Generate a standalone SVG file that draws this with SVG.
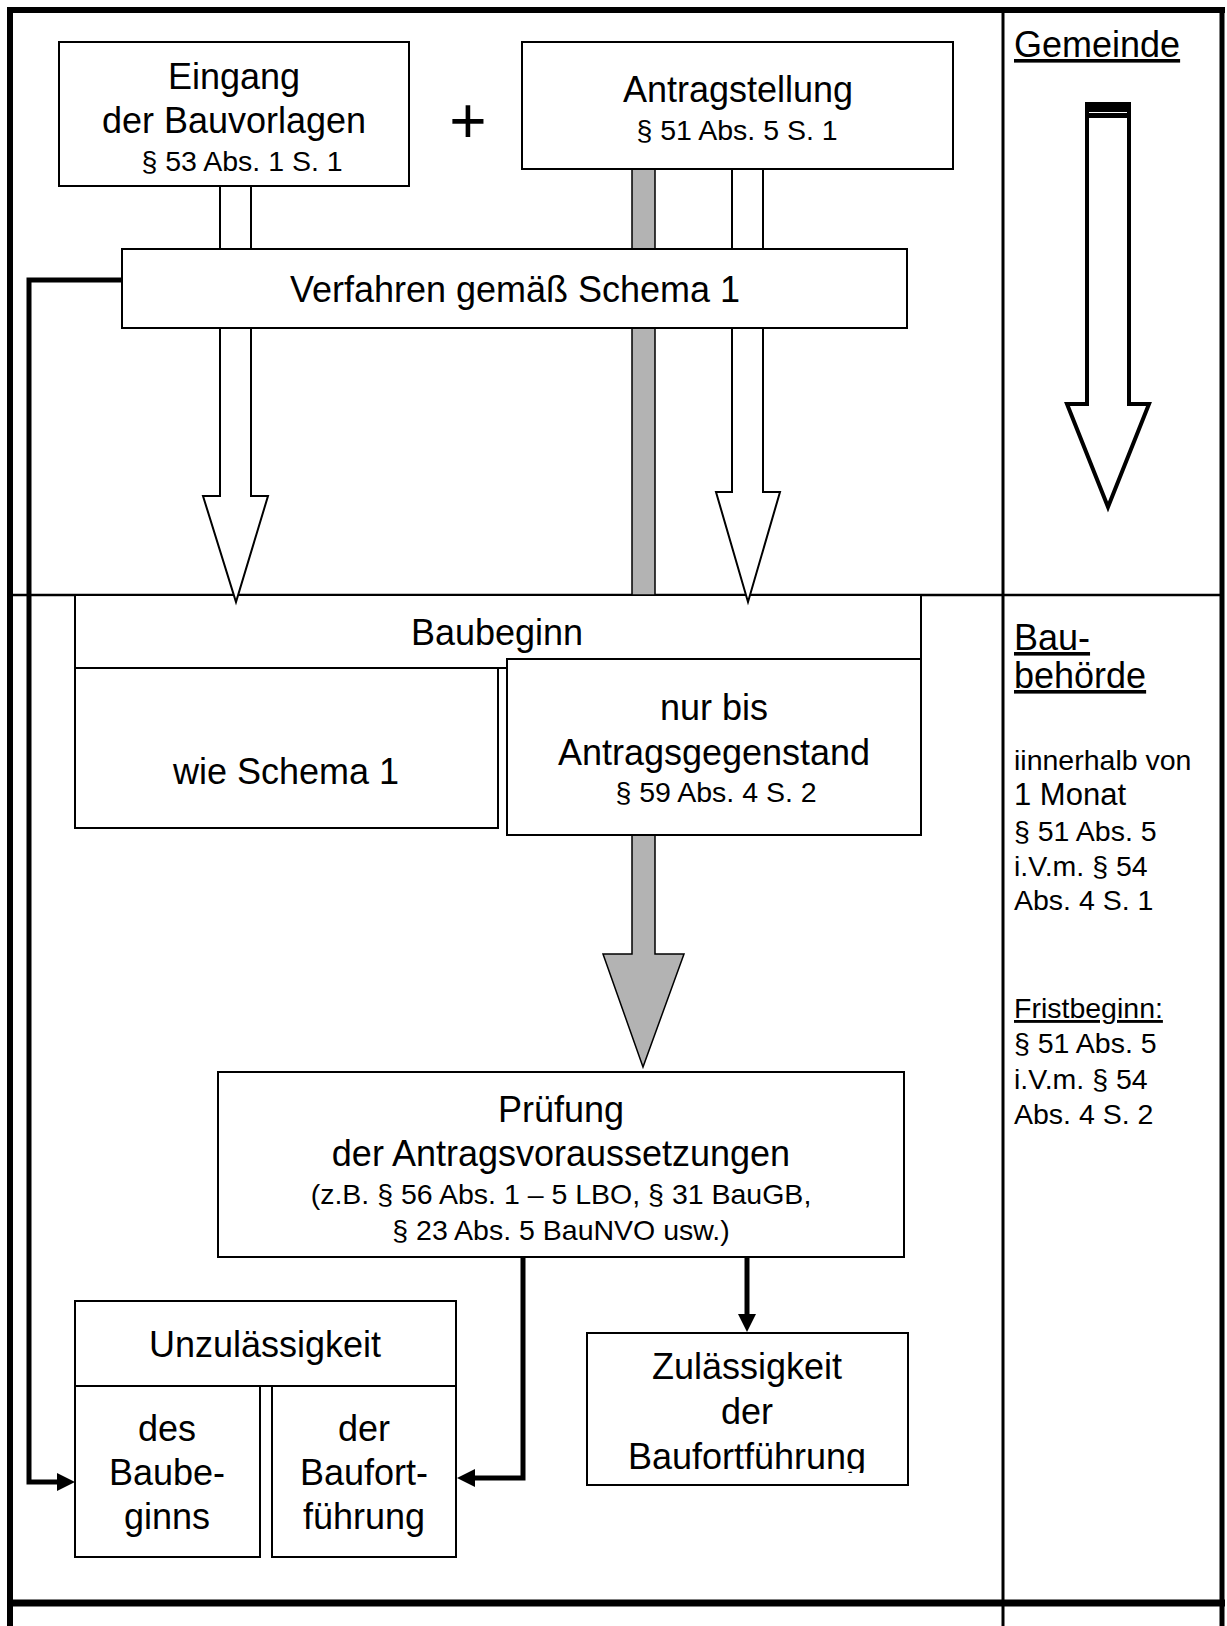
<svg xmlns="http://www.w3.org/2000/svg" width="1227" height="1626" viewBox="0 0 1227 1626">
<style>
text{font-family:"Liberation Sans",Arial,sans-serif;fill:#000}
.b{font-size:36px;text-anchor:middle}
.s{font-size:28.5px;text-anchor:middle}
.rb{font-size:36px}
.rs{font-size:28.5px}
.u{text-decoration:underline}
.box{fill:#fff;stroke:#000;stroke-width:2}
.hollow{fill:#fff;stroke:#000;stroke-width:2;stroke-linejoin:miter}
.grey{fill:#b3b3b3;stroke:#000;stroke-width:1.5;stroke-linejoin:miter}
.line{fill:none;stroke:#000;stroke-width:5;stroke-linejoin:miter}
.frame line{stroke:#000}
</style>
<defs>
<marker id="ah" markerUnits="userSpaceOnUse" markerWidth="18" markerHeight="18" viewBox="0 0 18 18" refX="0" refY="9" orient="auto"><path d="M0,0 L18,9 L0,18 Z" fill="#000"/></marker>
<clipPath id="clipZ"><rect x="587" y="1333" width="321" height="140"/></clipPath>
</defs>
<rect width="1227" height="1626" fill="#fff"/>
<g id="frame" class="frame">
<line x1="10" y1="7" x2="10" y2="1626" stroke-width="6"/>
<line x1="7" y1="10" x2="1225" y2="10" stroke-width="6"/>
<line x1="1222" y1="7" x2="1222" y2="1626" stroke-width="5"/>
<line x1="1003" y1="10" x2="1003" y2="1626" stroke-width="3"/>
<line x1="10" y1="595" x2="1222" y2="595" stroke-width="2.5"/>
<line x1="7" y1="1603" x2="1225" y2="1603" stroke-width="7"/>
</g>
<g id="side-labels">
<text class="rb u" x="1014" y="57">Gemeinde</text>
<text class="rb u" x="1014" y="650">Bau-</text>
<text class="rb u" x="1014" y="688">behörde</text>
<text class="rs" x="1014" y="770">iinnerhalb von</text>
<text class="rs" x="1014" y="805" style="font-size:31px">1 Monat</text>
<text class="rs" x="1014" y="841">§ 51 Abs. 5</text>
<text class="rs" x="1014" y="876">i.V.m. § 54</text>
<text class="rs" x="1014" y="910">Abs. 4 S. 1</text>
<text class="rs u" x="1014" y="1018">Fristbeginn:</text>
<text class="rs" x="1014" y="1053">§ 51 Abs. 5</text>
<text class="rs" x="1014" y="1089">i.V.m. § 54</text>
<text class="rs" x="1014" y="1124">Abs. 4 S. 2</text>
</g>
<g id="gemeinde-arrow">
<polygon points="1087,104 1129,104 1129,404 1149,404 1108,507 1067,404 1087,404" fill="#fff" stroke="#000" stroke-width="4"/>
<rect x="1085" y="102" width="46" height="16" fill="#000"/>
<line x1="1089" y1="112.5" x2="1127" y2="112.5" stroke="#fff" stroke-width="1.2"/>
</g>
<g id="baubeginn">
<rect class="box" x="75" y="595" width="846" height="73"/>
<text class="b" x="497" y="645">Baubeginn</text>
</g>
<g id="wie-schema">
<rect class="box" x="75" y="668" width="423" height="160"/>
<text class="b" x="286" y="784">wie Schema 1</text>
</g>
<g id="connectors">
<polygon class="hollow" points="220,186 251,186 251,496 268,496 236,602 203,496 220,496"/>
<rect class="grey" x="632" y="169" width="23" height="426"/>
<polygon class="hollow" points="732,169 763,169 763,492 780,492 748,602 716,492 732,492"/>
<polygon class="grey" points="632,835 655,835 655,954 684,954 643,1067 603,954 632,954"/>
<path class="line" d="M122,280 H29 V1482 H57" marker-end="url(#ah)"/>
<path class="line" d="M523,1257 V1478 H475" marker-end="url(#ah)"/>
<path class="line" d="M747,1257 V1314" marker-end="url(#ah)"/>
</g>
<g id="plus">
<text x="468" y="143" style="font-size:64px;text-anchor:middle">+</text>
</g>
<g id="eingang">
<rect class="box" x="59" y="42" width="350" height="144"/>
<text class="b" x="234" y="89">Eingang</text>
<text class="b" x="234" y="133">der Bauvorlagen</text>
<text class="s" x="242" y="171">§ 53 Abs. 1 S. 1</text>
</g>
<g id="antragstellung">
<rect class="box" x="522" y="42" width="431" height="127"/>
<text class="b" x="738" y="102">Antragstellung</text>
<text class="s" x="737" y="140">§ 51 Abs. 5 S. 1</text>
</g>
<g id="verfahren">
<rect class="box" x="122" y="249" width="785" height="79"/>
<text class="b" x="515" y="302">Verfahren gemäß Schema 1</text>
</g>
<g id="nur-bis">
<rect class="box" x="507" y="659" width="414" height="176"/>
<text class="b" x="714" y="720">nur bis</text>
<text class="b" x="714" y="765">Antragsgegenstand</text>
<text class="s" x="716" y="802">§ 59 Abs. 4 S. 2</text>
</g>
<g id="pruefung">
<rect class="box" x="218" y="1072" width="686" height="185"/>
<text class="b" x="561" y="1122">Prüfung</text>
<text class="b" x="561" y="1166">der Antragsvoraussetzungen</text>
<text class="s" x="561" y="1204">(z.B. § 56 Abs. 1 – 5 LBO, § 31 BauGB,</text>
<text class="s" x="561" y="1240">§ 23 Abs. 5 BauNVO usw.)</text>
</g>
<g id="unzulaessigkeit">
<rect class="box" x="75" y="1301" width="381" height="85"/>
<text class="b" x="265" y="1357">Unzulässigkeit</text>
</g>
<g id="des-baubeginns">
<rect class="box" x="75" y="1386" width="185" height="171"/>
<text class="b" x="167" y="1441">des</text>
<text class="b" x="167" y="1485">Baube-</text>
<text class="b" x="167" y="1529">ginns</text>
</g>
<g id="der-baufortfuehrung">
<rect class="box" x="272" y="1386" width="184" height="171"/>
<text class="b" x="364" y="1441">der</text>
<text class="b" x="364" y="1485">Baufort-</text>
<text class="b" x="364" y="1529">führung</text>
</g>
<g id="zulaessigkeit">
<rect class="box" x="587" y="1333" width="321" height="152"/>
<text class="b" x="747" y="1379">Zulässigkeit</text>
<text class="b" x="747" y="1424">der</text>
<text class="b" x="747" y="1469" clip-path="url(#clipZ)">Baufortführung</text>
</g>
</svg>
